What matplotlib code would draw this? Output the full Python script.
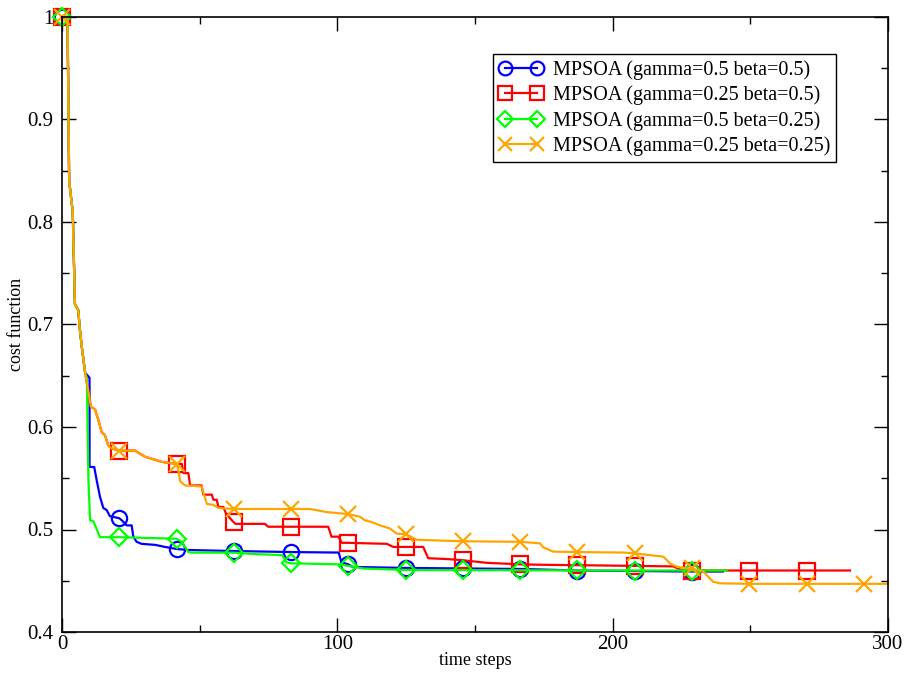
import matplotlib
matplotlib.use("Agg")
import matplotlib.pyplot as plt
import numpy as np
from matplotlib.ticker import MultipleLocator, FuncFormatter

# every set shares the same first drop
head_x = [0, 2.0, 2.6, 3.9, 4.7, 5.9, 6.5, 7.2, 8.4]
head_y = [1.0, 1.0, 0.84, 0.81, 0.72, 0.714, 0.695, 0.678, 0.653]

# red / orange stay together up to t~42
mid_x = [10.5, 12.0, 13.2, 14.4, 15.6, 16.8, 18.0, 20.8, 26.5, 30.1, 32.6, 36.2, 41.6]
mid_y = [0.620, 0.617, 0.607, 0.595, 0.592, 0.582, 0.579, 0.577, 0.577, 0.571, 0.569, 0.566, 0.564]

# gamma=0.5 beta=0.5
blue_x = [10.0, 10.0, 11.7, 12.6, 13.8, 15.0, 16.2, 17.4, 20.8, 21.7, 23.5, 25.3, 25.9, 27.1,
          28.9, 33.8, 37.4, 41.6, 45.9, 62.4, 83.2, 100.5, 101.5, 104.0, 105.5, 124.8, 145.6,
          166.4, 187.2, 208.0, 228.8, 240.0]
blue_y = [0.648, 0.561, 0.561, 0.548, 0.532, 0.521, 0.519, 0.513, 0.511, 0.509, 0.504, 0.504,
          0.493, 0.488, 0.486, 0.485, 0.483, 0.481, 0.480, 0.479, 0.478, 0.4775, 0.468, 0.466,
          0.4635, 0.4625, 0.462, 0.4615, 0.460, 0.4595, 0.459, 0.459]

# gamma=0.25 beta=0.5
red_x = [43.5, 44.1, 45.9, 46.5, 50.7, 51.3, 54.4, 55.0, 56.2, 56.8, 58.6, 59.5, 61.0, 62.4,
         63.0, 73.7, 74.9, 83.2, 96.7, 97.9, 100.4, 101.6, 104.0, 118.0, 120.3, 124.8, 131.2,
         133.0, 140.9, 145.6, 154.2, 166.4, 176.0, 187.2, 208.0, 222.0, 225.0, 228.8, 249.6,
         270.4, 286.2]
red_y = [0.564, 0.555, 0.555, 0.543, 0.543, 0.534, 0.534, 0.529, 0.529, 0.522, 0.522, 0.516,
         0.511, 0.507, 0.5055, 0.5055, 0.5027, 0.5027, 0.5027, 0.493, 0.493, 0.487, 0.487, 0.486,
         0.483, 0.483, 0.483, 0.472, 0.471, 0.470, 0.4675, 0.466, 0.4655, 0.4652, 0.4645, 0.464,
         0.4605, 0.460, 0.460, 0.460, 0.460]

# gamma=0.5 beta=0.25
green_x = [9.0, 9.6, 10.2, 11.4, 13.8, 20.8, 41.6, 43.5, 45.9, 47.1, 62.4, 70.1, 80.0, 81.5,
           83.2, 100.4, 104.0, 109.4, 124.8, 145.6, 166.4, 187.2, 208.0, 228.8, 241.4]
green_y = [0.648, 0.548, 0.509, 0.508, 0.4925, 0.4925, 0.491, 0.488, 0.478, 0.4774, 0.4774,
           0.476, 0.475, 0.468, 0.467, 0.466, 0.4645, 0.462, 0.4605, 0.4603, 0.4602, 0.4601,
           0.460, 0.460, 0.460]

# gamma=0.25 beta=0.25
orange_x = [42.3, 42.9, 44.7, 50.7, 52.6, 55.0, 56.8, 62.4, 83.2, 90.1, 96.1, 104.0, 108.2,
            110.0, 111.9, 113.7, 115.5, 119.1, 121.6, 124.8, 128.8, 139.7, 145.6, 166.4, 173.6,
            174.8, 178.4, 187.2, 203.9, 208.0, 218.4, 220.8, 223.3, 226.9, 228.8, 232.9, 236.5,
            239.0, 249.6, 270.4, 291.2, 300.0]
orange_y = [0.558, 0.547, 0.543, 0.542, 0.525, 0.524, 0.521, 0.520, 0.520, 0.520, 0.517, 0.515,
            0.5125, 0.509, 0.5077, 0.506, 0.504, 0.501, 0.496, 0.4955, 0.490, 0.489, 0.4885,
            0.488, 0.4865, 0.4826, 0.4784, 0.478, 0.4775, 0.4767, 0.4735, 0.467, 0.4637, 0.462,
            0.462, 0.459, 0.449, 0.4475, 0.447, 0.447, 0.447, 0.447]

# xmgrace symbol positions
mark_x = [0, 20.8, 41.6, 62.4, 83.2, 104.0, 124.8, 145.6, 166.4, 187.2, 208.0, 228.8,
          249.6, 270.4, 291.2]

labels = ['MPSOA (gamma=0.5 beta=0.5)', 'MPSOA (gamma=0.25 beta=0.5)',
          'MPSOA (gamma=0.5 beta=0.25)', 'MPSOA (gamma=0.25 beta=0.25)']

series = [
    (head_x + blue_x, head_y + blue_y, '#0000ff', 'o'),
    (head_x + mid_x + red_x, head_y + mid_y + red_y, '#ff0000', 's'),
    (head_x + green_x, head_y + green_y, '#00ff00', 'D'),
    (head_x + mid_x + orange_x, head_y + mid_y + orange_y, '#ffa500', 'x'),
]

plt.rcParams['font.family'] = ['Liberation Serif', 'DejaVu Serif']

fig = plt.figure(figsize=(9.05, 6.77), dpi=100)
ax = fig.add_axes([62 / 905, 1 - 632 / 677, 826 / 905, 615 / 677])

for (xs, ys, col, mk), lab in zip(series, labels):
    xs = np.array(xs)
    ys = np.array(ys)
    idx = [i for i, v in enumerate(xs) if np.any(np.isclose(v, mark_x))]
    ms = 9 if mk == 'D' else 11
    ax.plot(xs, ys, color=col, lw=1.6, marker=mk, markevery=idx, ms=ms, mfc='none',
            mec=col, mew=1.6, label=lab, clip_on=False)

ax.set_xlim(0, 300)
ax.set_ylim(0.4, 1.0)
ax.xaxis.set_major_locator(MultipleLocator(100))
ax.xaxis.set_minor_locator(MultipleLocator(50))
ax.yaxis.set_major_locator(MultipleLocator(0.1))
ax.yaxis.set_minor_locator(MultipleLocator(0.05))
ax.yaxis.set_major_formatter(FuncFormatter(lambda v, p: f'{v:g}'))
ax.tick_params(which='both', direction='in', top=True, right=True, width=1.0, labelsize=15)
ax.tick_params(which='major', length=10)
ax.tick_params(which='minor', length=5)
ax.tick_params(axis='x', pad=2)
ax.tick_params(axis='y', pad=6)
for s in ax.spines.values():
    s.set_linewidth(1.2)

ax.set_xlabel('time steps', fontsize=13, labelpad=-1)
ax.set_ylabel('cost function', fontsize=13, labelpad=2)

leg = ax.legend(loc='upper right', bbox_to_anchor=(0.937, 0.94), numpoints=2,
                fontsize=14.5, handlelength=2.2, handletextpad=0.45, labelspacing=0.29,
                borderpad=0.3, borderaxespad=0, fancybox=False, framealpha=1,
                edgecolor='black', markerscale=0.9)
leg.get_frame().set_linewidth(1.0)

fig.savefig('out.png', dpi=100)
